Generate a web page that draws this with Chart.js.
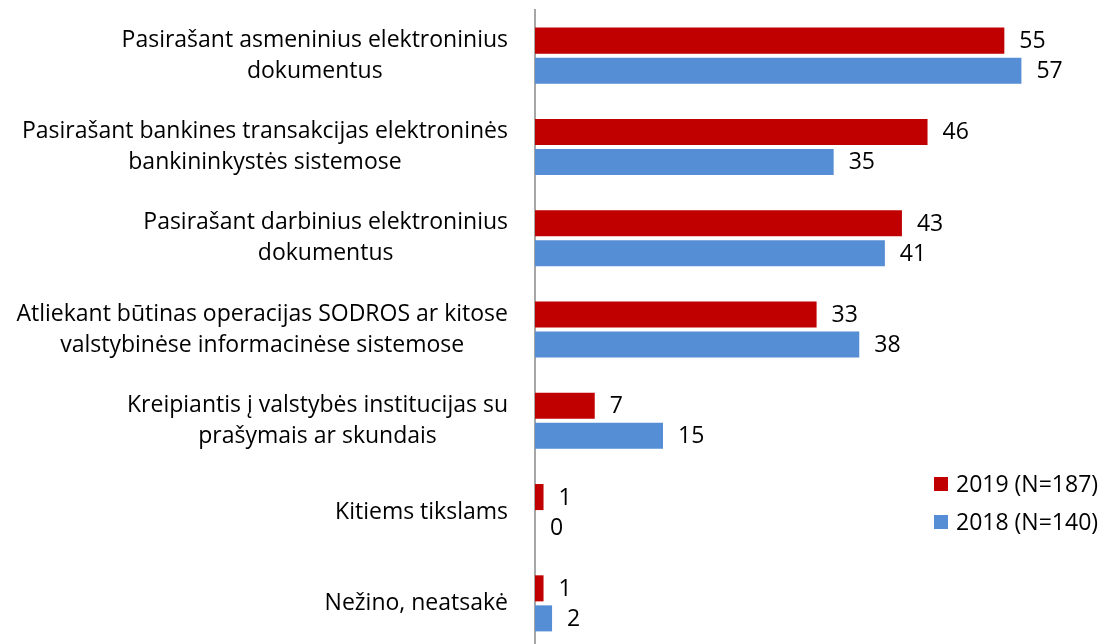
<!DOCTYPE html>
<html><head><meta charset="utf-8">
<script src="https://cdn.jsdelivr.net/npm/chart.js@4"></script>
<style>html,body{margin:0;padding:0;background:#fff;overflow:hidden;width:1113px;height:644px}#wrap{width:1113px;height:650px;position:relative}</style>
</head><body><div id="wrap"><canvas id="c"></canvas></div>
<script>
const categories = [
  ["Pasirašant asmeninius elektroninius","dokumentus"],
  ["Pasirašant bankines transakcijas elektroninės","bankininkystės sistemose"],
  ["Pasirašant darbinius elektroninius","dokumentus"],
  ["Atliekant būtinas operacijas SODROS ar kitose","valstybinėse informacinėse sistemose"],
  ["Kreipiantis į valstybės institucijas su","prašymais ar skundais"],
  ["Kitiems tikslams"],
  ["Nežino, neatsakė"]
];
const series2019 = [55, 46, 43, 33, 7, 1, 1];
const series2018 = [57, 35, 41, 38, 15, 0, 2];
const seriesNames = ["2019 (N=187)", "2018 (N=140)"];
const colors = ["#C00000", "#558ED5"];
const FONT = "23px 'Open Sans', sans-serif";

const labelPlugin = {
  id: 'custom',
  afterDraw(chart) {
    const ctx = chart.ctx;
    const y = chart.scales.y;
    ctx.save();
    ctx.font = FONT;
    ctx.fillStyle = "#000";
    ctx.textBaseline = "middle";
    const lh = 31;
    const right = 508;
    categories.forEach((lines, i) => {
      const cy = y.getPixelForValue(i);
      const widths = lines.map(l => ctx.measureText(l).width);
      const maxW = Math.max(...widths);
      const cx = right - maxW / 2;
      ctx.textAlign = "center";
      lines.forEach((l, j) => {
        ctx.fillText(l, cx, cy + (j - (lines.length - 1) / 2) * lh);
      });
    });
    ctx.textAlign = "left";
    chart.data.datasets.forEach((ds, di) => {
      const meta = chart.getDatasetMeta(di);
      meta.data.forEach((bar, i) => {
        ctx.fillText(String(ds.data[i]), bar.x + 15, bar.y + 1);
      });
    });
    const lx = 934, ly = [484, 522];
    seriesNames.forEach((n, i) => {
      ctx.fillStyle = colors[i];
      ctx.fillRect(lx, ly[i] - 7, 14, 14);
      ctx.fillStyle = "#000";
      ctx.fillText(n, lx + 22, ly[i] + 1);
    });
    ctx.restore();
  }
};

new Chart(document.getElementById('c'), {
  type: 'bar',
  data: {
    labels: categories,
    datasets: [
      { label: seriesNames[0], data: series2019, backgroundColor: colors[0], categoryPercentage: 0.658, barPercentage: 0.867 },
      { label: seriesNames[1], data: series2018, backgroundColor: colors[1], categoryPercentage: 0.658, barPercentage: 0.867 }
    ]
  },
  options: {
    indexAxis: 'y',
    responsive: true,
    maintainAspectRatio: false,
    animation: false,
    layout: { padding: { top: 10, bottom: 1, left: 0, right: 66 } },
    plugins: { legend: { display: false }, tooltip: { enabled: false } },
    scales: {
      x: { display: false, min: 0, max: 60 },
      y: {
        grid: { display: false, drawTicks: false },
        border: { display: true, color: "#A6A6A6", width: 2 },
        ticks: { display: false },
        afterFit(s) { s.width = 535; }
      }
    }
  },
  plugins: [labelPlugin]
});
</script></body></html>
